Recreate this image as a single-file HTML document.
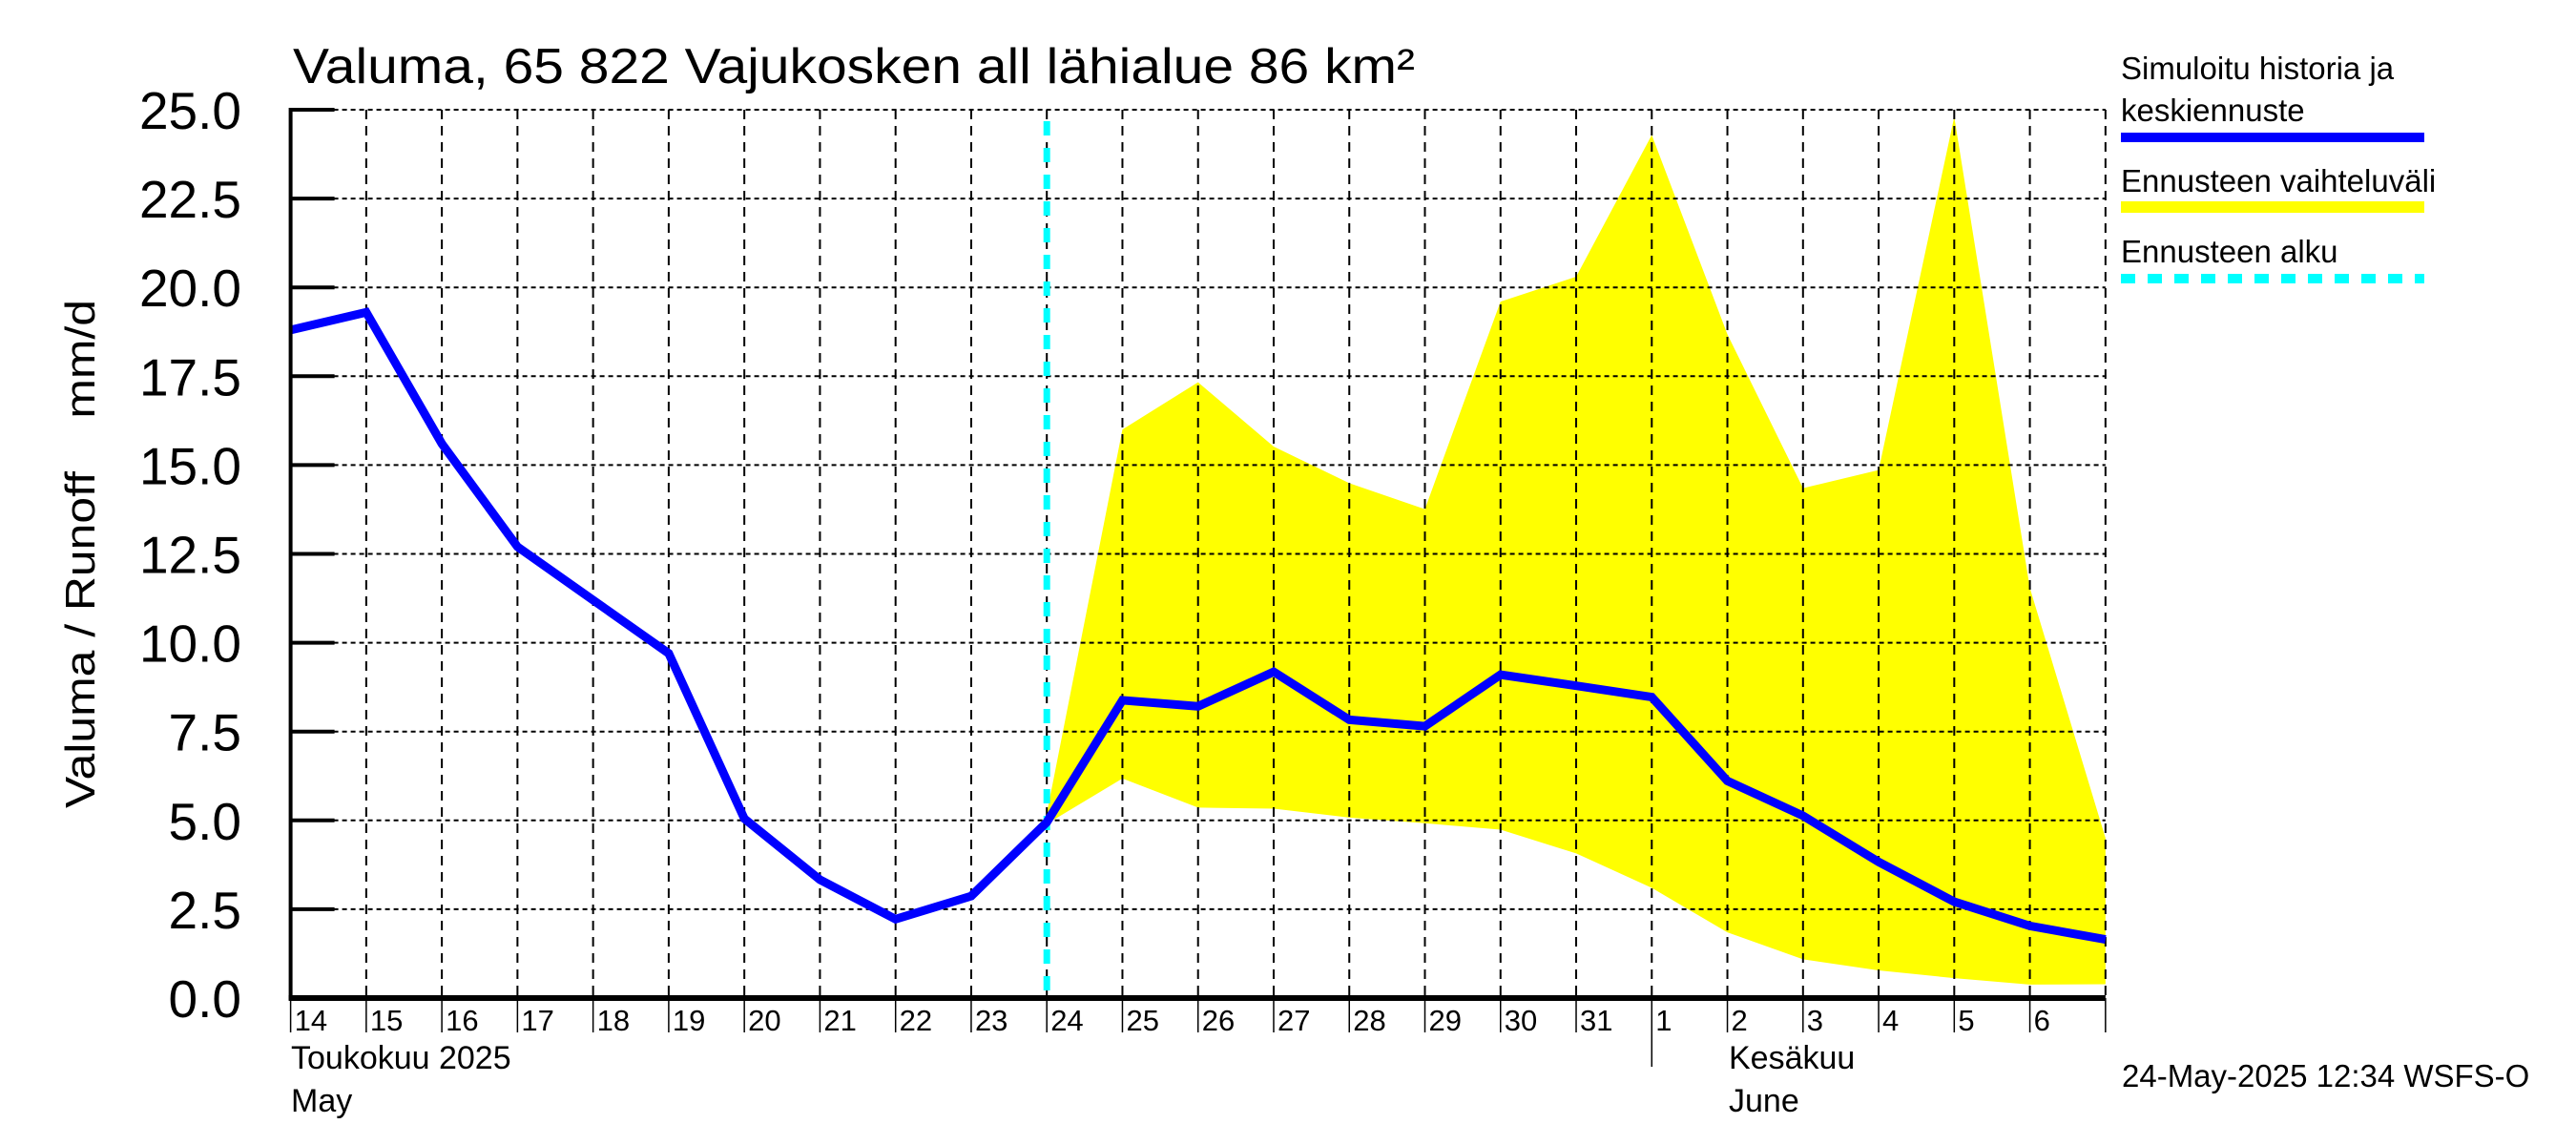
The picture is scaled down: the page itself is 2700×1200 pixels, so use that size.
<!DOCTYPE html>
<html><head><meta charset="utf-8"><style>
html,body{margin:0;padding:0;background:#fff}
svg{display:block}
text{font-family:"Liberation Sans",sans-serif;fill:#000}
</style></head><body>
<svg id="chart" width="2700" height="1200" viewBox="0 0 2700 1200" xmlns="http://www.w3.org/2000/svg">
<rect x="0" y="0" width="2700" height="1200" fill="#fff"/>
<g id="band"></g>
<g id="grid"></g>
<g id="lines"></g>
<g id="axes"></g>
<text x="307" y="87" font-size="52" textLength="1176" lengthAdjust="spacingAndGlyphs">Valuma, 65 822 Vajukosken all lähialue 86 km²</text>
<text transform="translate(99,847) rotate(-90)" font-size="44" xml:space="preserve" textLength="533" lengthAdjust="spacingAndGlyphs">Valuma / Runoff    mm/d</text>
<text x="305" y="1120" font-size="34">Toukokuu  2025</text>
<text x="305" y="1165" font-size="34">May</text>
<text x="1812" y="1120" font-size="34">Kesäkuu</text>
<text x="1812" y="1165" font-size="34">June</text>
<text x="2224" y="1139" font-size="33">24-May-2025 12:34 WSFS-O</text>
<g>
<text x="2223" y="83" font-size="33">Simuloitu historia ja</text>
<text x="2223" y="127" font-size="33">keskiennuste</text>
<line x1="2223" y1="144" x2="2541" y2="144" stroke="#0000ff" stroke-width="10"/>
<text x="2223" y="201" font-size="33">Ennusteen vaihteluväli</text>
<line x1="2223" y1="217" x2="2541" y2="217" stroke="#ffff00" stroke-width="12"/>
<text x="2223" y="275" font-size="33">Ennusteen alku</text>
<line x1="2223" y1="292" x2="2541" y2="292" stroke="#00ffff" stroke-width="10" stroke-dasharray="15 13"/>
</g>
</svg>
<script>
const dayLabels = ["14","15","16","17","18","19","20","21","22","23","24","25","26","27","28","29","30","31","1","2","3","4","5","6"];
const yTicks = [0,2.5,5,7.5,10,12.5,15,17.5,20,22.5,25];
const yTickLabels = ["0.0","2.5","5.0","7.5","10.0","12.5","15.0","17.5","20.0","22.5","25.0"];
const simulated = [18.8,19.3,15.6,12.7,11.2,9.7,5.05,3.33,2.22,2.87,4.95,8.38,8.21,9.18,7.83,7.65,9.1,8.79,8.47,6.11,5.13,3.83,2.71,2.03,1.65];
const bandStartDay = 10;
const bandUpper = [5.2,16.0,17.33,15.52,14.49,13.76,19.6,20.3,24.29,18.68,14.35,14.86,24.8,11.54,4.5];
const bandLower = [4.9,6.18,5.36,5.33,5.08,4.92,4.74,4.07,3.1,1.85,1.09,0.78,0.56,0.38,0.39];
const forecastStartDay = 10;
const monthBoundaryDay = 18;

const NS="http://www.w3.org/2000/svg";
const X0=304.6, DX=79.26, Y0=1046, YPU=37.24, XEND=X0+24*DX;
const xs=d=>X0+d*DX, ys=v=>Y0-v*YPU;
function mk(tag,attrs,parent){const e=document.createElementNS(NS,tag);for(const k in attrs)e.setAttribute(k,attrs[k]);parent.appendChild(e);return e;}
const band=document.getElementById('band'),grid=document.getElementById('grid'),lines=document.getElementById('lines'),axes=document.getElementById('axes');

// band
let pts=[];
bandUpper.forEach((v,i)=>pts.push(xs(bandStartDay+i)+','+ys(v)));
for(let i=bandLower.length-1;i>=0;i--)pts.push(xs(bandStartDay+i)+','+ys(bandLower[i]));
const poly=mk('polygon',{points:pts.join(' '),fill:'#ffff00'},band);



// grid
yTicks.forEach((v,i)=>{if(v===0)return;const l=mk('line',{x1:X0,y1:ys(v),x2:XEND,y2:ys(v),stroke:'#000','stroke-width':2,'stroke-dasharray':'5 4'},grid);

});
for(let d=1;d<=24;d++){const l=mk('line',{x1:xs(d),y1:ys(25),x2:xs(d),y2:Y0,stroke:'#000','stroke-width':2,'stroke-dasharray':'10 7'},grid);

}

// forecast start
const fs=mk('line',{x1:xs(forecastStartDay),y1:127,x2:xs(forecastStartDay),y2:Y0,stroke:'#00ffff','stroke-width':7,'stroke-dasharray':'15 13'},lines);



// simulated line
const sp=simulated.map((v,i)=>xs(i)+','+ys(v)).join(' ');
const pl=mk('polyline',{points:sp,fill:'none',stroke:'#0000ff','stroke-width':9,'stroke-linejoin':'miter'},lines);



// axes
const ya=mk('line',{x1:X0,y1:ys(25)-2,x2:X0,y2:Y0+2,stroke:'#000','stroke-width':4},axes);


const xa=mk('line',{x1:X0-2,y1:Y0,x2:XEND,y2:Y0,stroke:'#000','stroke-width':6},axes);


yTicks.forEach((v,i)=>{
 const t=mk('line',{x1:X0,y1:ys(v),x2:X0+46,y2:ys(v),stroke:'#000','stroke-width':4},axes);
 
 
 const tx=mk('text',{x:253,y:ys(v)+20,'font-size':55,'text-anchor':'end'},axes);
 tx.textContent=yTickLabels[i];
 
 
});
for(let d=0;d<=24;d++){
 const long=d===monthBoundaryDay;
 const t=mk('line',{x1:xs(d),y1:Y0,x2:xs(d),y2:long?1118:1082,stroke:'#000','stroke-width':1.5},axes);
 
 
}
dayLabels.forEach((s,d)=>{
 const tx=mk('text',{x:xs(d)+4,y:1080,'font-size':31},axes);
 tx.textContent=s;
 
 
});
</script>
</body></html>
